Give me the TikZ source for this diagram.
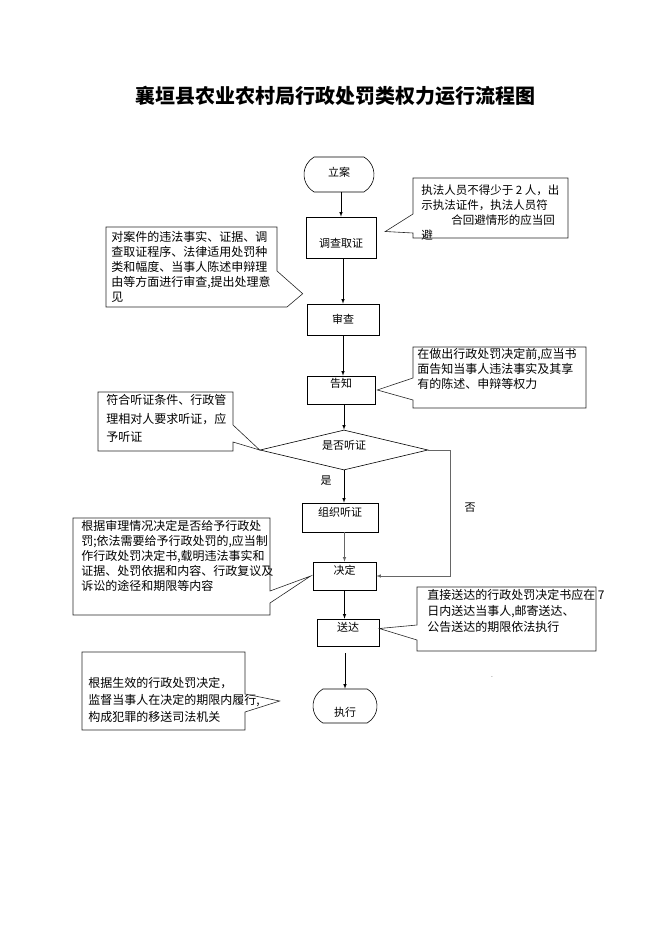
\documentclass[tikz,border=0pt]{standalone}
\usepackage{fontspec}
\setmainfont{Noto Sans CJK SC}
\usetikzlibrary{positioning, shapes.geometric, shapes.misc}

\begin{document}
\begin{tikzpicture}[x=1pt, y=-1pt, >=latex, line width=0.6pt,
  every node/.style={inner sep=0pt, font=\fontsize{11}{14}\selectfont},
  note/.style={draw=black!85, line width=0.6pt},
  notetext/.style={anchor=north west, align=left, font=\fontsize{12}{15}\selectfont}]

\def\termshape{rounded rectangle}
\def\stepshape{rectangle}
\def\askshape{diamond}

\useasboundingbox (0,0) rectangle (662,936);

  % Title
  \node (title) at (335,96) [font=\fontsize{20}{24}\selectfont\bfseries] {襄垣县农业农村局行政处罚类权力运行流程图};

  % Main flow
  \node (lian) at (339,174.5) [\termshape, draw, rounded rectangle arc length=120, minimum width=70pt, minimum height=35pt, text height=9pt, text depth=4.4pt] {立案};
  \node (diaocha) at (341,237.5) [\stepshape, draw, minimum width=70pt, minimum height=41pt, text height=22pt, text depth=2.4pt] {调查取证};
  \node (shencha) at (343,319.5) [\stepshape, draw, minimum width=72pt, minimum height=31pt, text height=10.6pt, text depth=2pt] {审查};
  \node (gaozhi) at (341,390) [\stepshape, draw, minimum width=68pt, minimum height=28pt, text height=9pt, text depth=14.4pt] {告知};
  \node (tingzheng) at (344,450) [\askshape, draw, aspect=4, minimum width=168pt, minimum height=40pt, text height=7pt, text depth=9pt] {是否听证};
  \node (zuzhi) at (340,517.5) [\stepshape, draw, minimum width=76pt, minimum height=29pt, text height=9pt, text depth=11.4pt] {组织听证};
  \node (jueding) at (344.5,576) [\stepshape, draw, minimum width=63pt, minimum height=28pt, text height=9pt, text depth=12.4pt] {决定};
  \node (songda) at (348,632.5) [\stepshape, draw, minimum width=62pt, minimum height=27pt, text height=9pt, text depth=11.4pt] {送达};
  \node (zhixing) at (345,706) [\termshape, draw, rounded rectangle arc length=120, minimum width=64pt, minimum height=34pt, text height=23pt, text depth=2.4pt] {执行};

  \node (yes) at (326,481) {是};
  \node (no) at (470,508) {否};
  \node (dash) at (492,678) [font=\fontsize{6}{6}\selectfont, text=black!50] {-};

  % Arrows
  \draw[->] (diaocha.north |- lian.south) -- (diaocha.north);
  \draw[->] (shencha.north |- diaocha.south) -- (shencha.north);
  \draw[->] (shencha.south) -- (shencha.south |- gaozhi.north);
  \draw[->] (tingzheng.north |- gaozhi.south) -- (tingzheng.north);
  \draw[->] (tingzheng.south) -- (tingzheng.south |- zuzhi.north);
  \draw[->, black!60] (jueding.north |- zuzhi.south) -- (jueding.north);
  \draw[->] (jueding.south) -- (jueding.south |- songda.north);
  \draw[->, shorten <=7pt] (zhixing.north |- songda.south) -- (zhixing.north);
  \draw[->, black!60] (tingzheng.east) -- ++(22,0) |- (jueding.east);

  % Notes
  \node (note_staff) at (421,184.5) [notetext, font=\fontsize{11.5}{15}\selectfont] {执法人员不得少于 2 人，出\\示执法证件，执法人员符\\\hspace*{30pt}合回避情形的应当回\\避};
  \draw[note] (413,178) -- (568,178) -- (568,238) -- (413,238) -- (413,233) -- ([shift={(9,-6)}]diaocha.east) -- (413,214) -- cycle;

  \node (note_review) at (111,231.5) [notetext] {对案件的违法事实、证据、调\\查取证程序、法律适用处罚种\\类和幅度、当事人陈述申辩理\\由等方面进行审查,提出处理意\\见};
  \draw[note] (106,227) -- (277,227) -- (277,271) -- ([shift={(-4,-10)}]shencha.north west) -- (287,307) -- (106,307) -- cycle;

  \node (note_inform) at (417,348.5) [notetext] {在做出行政处罚决定前,应当书\\面告知当事人违法事实及其享\\有的陈述、申辩等权力};
  \draw[note] (413,347) -- (586,347) -- (586,408) -- (413,408) -- (413,400) -- ([xshift=2pt]gaozhi.east) -- (413,378) -- cycle;

  \node (note_hearing) at (106,394.5) [notetext, font=\fontsize{12}{18.5}\selectfont] {符合听证条件、行政管\\理相对人要求听证，应\\予听证};
  \draw[note] (98,392) -- (233,392) -- (233,425) -- (tingzheng.west) -- (233,442) -- (233,451) -- (98,451) -- cycle;

  \node (note_decide) at (81,520.5) [notetext] {根据审理情况决定是否给予行政处\\罚;依法需要给予行政处罚的,应当制\\作行政处罚决定书,载明违法事实和\\证据、处罚依据和内容、行政复议及\\诉讼的途径和期限等内容};
  \draw[note] (73,518) -- (270,518) -- (270,591) -- ([xshift=-2pt]jueding.west) -- (270,603) -- (270,615) -- (73,615) -- cycle;

  \node (note_deliver) at (427,589) [notetext, font=\fontsize{12}{16}\selectfont] {直接送达的行政处罚决定书应在 7\\日内送达当事人,邮寄送达、\\公告送达的期限依法执行};
  \draw[note] (417,587) -- (596,587) -- (596,651) -- (417,651) -- (417,640) -- ([yshift=4pt]songda.east) -- (417,625) -- cycle;

  \node (note_enforce) at (88,677.5) [notetext, font=\fontsize{12}{17}\selectfont] {根据生效的行政处罚决定，\\监督当事人在决定的期限内履行,\\构成犯罪的移送司法机关};
  \draw[note] (82,652) -- (245,652) -- (245,694) -- ([shift={(-33,-5)}]zhixing.west) -- (245,712) -- (245,730) -- (82,730) -- cycle;

\end{tikzpicture}
\end{document}
